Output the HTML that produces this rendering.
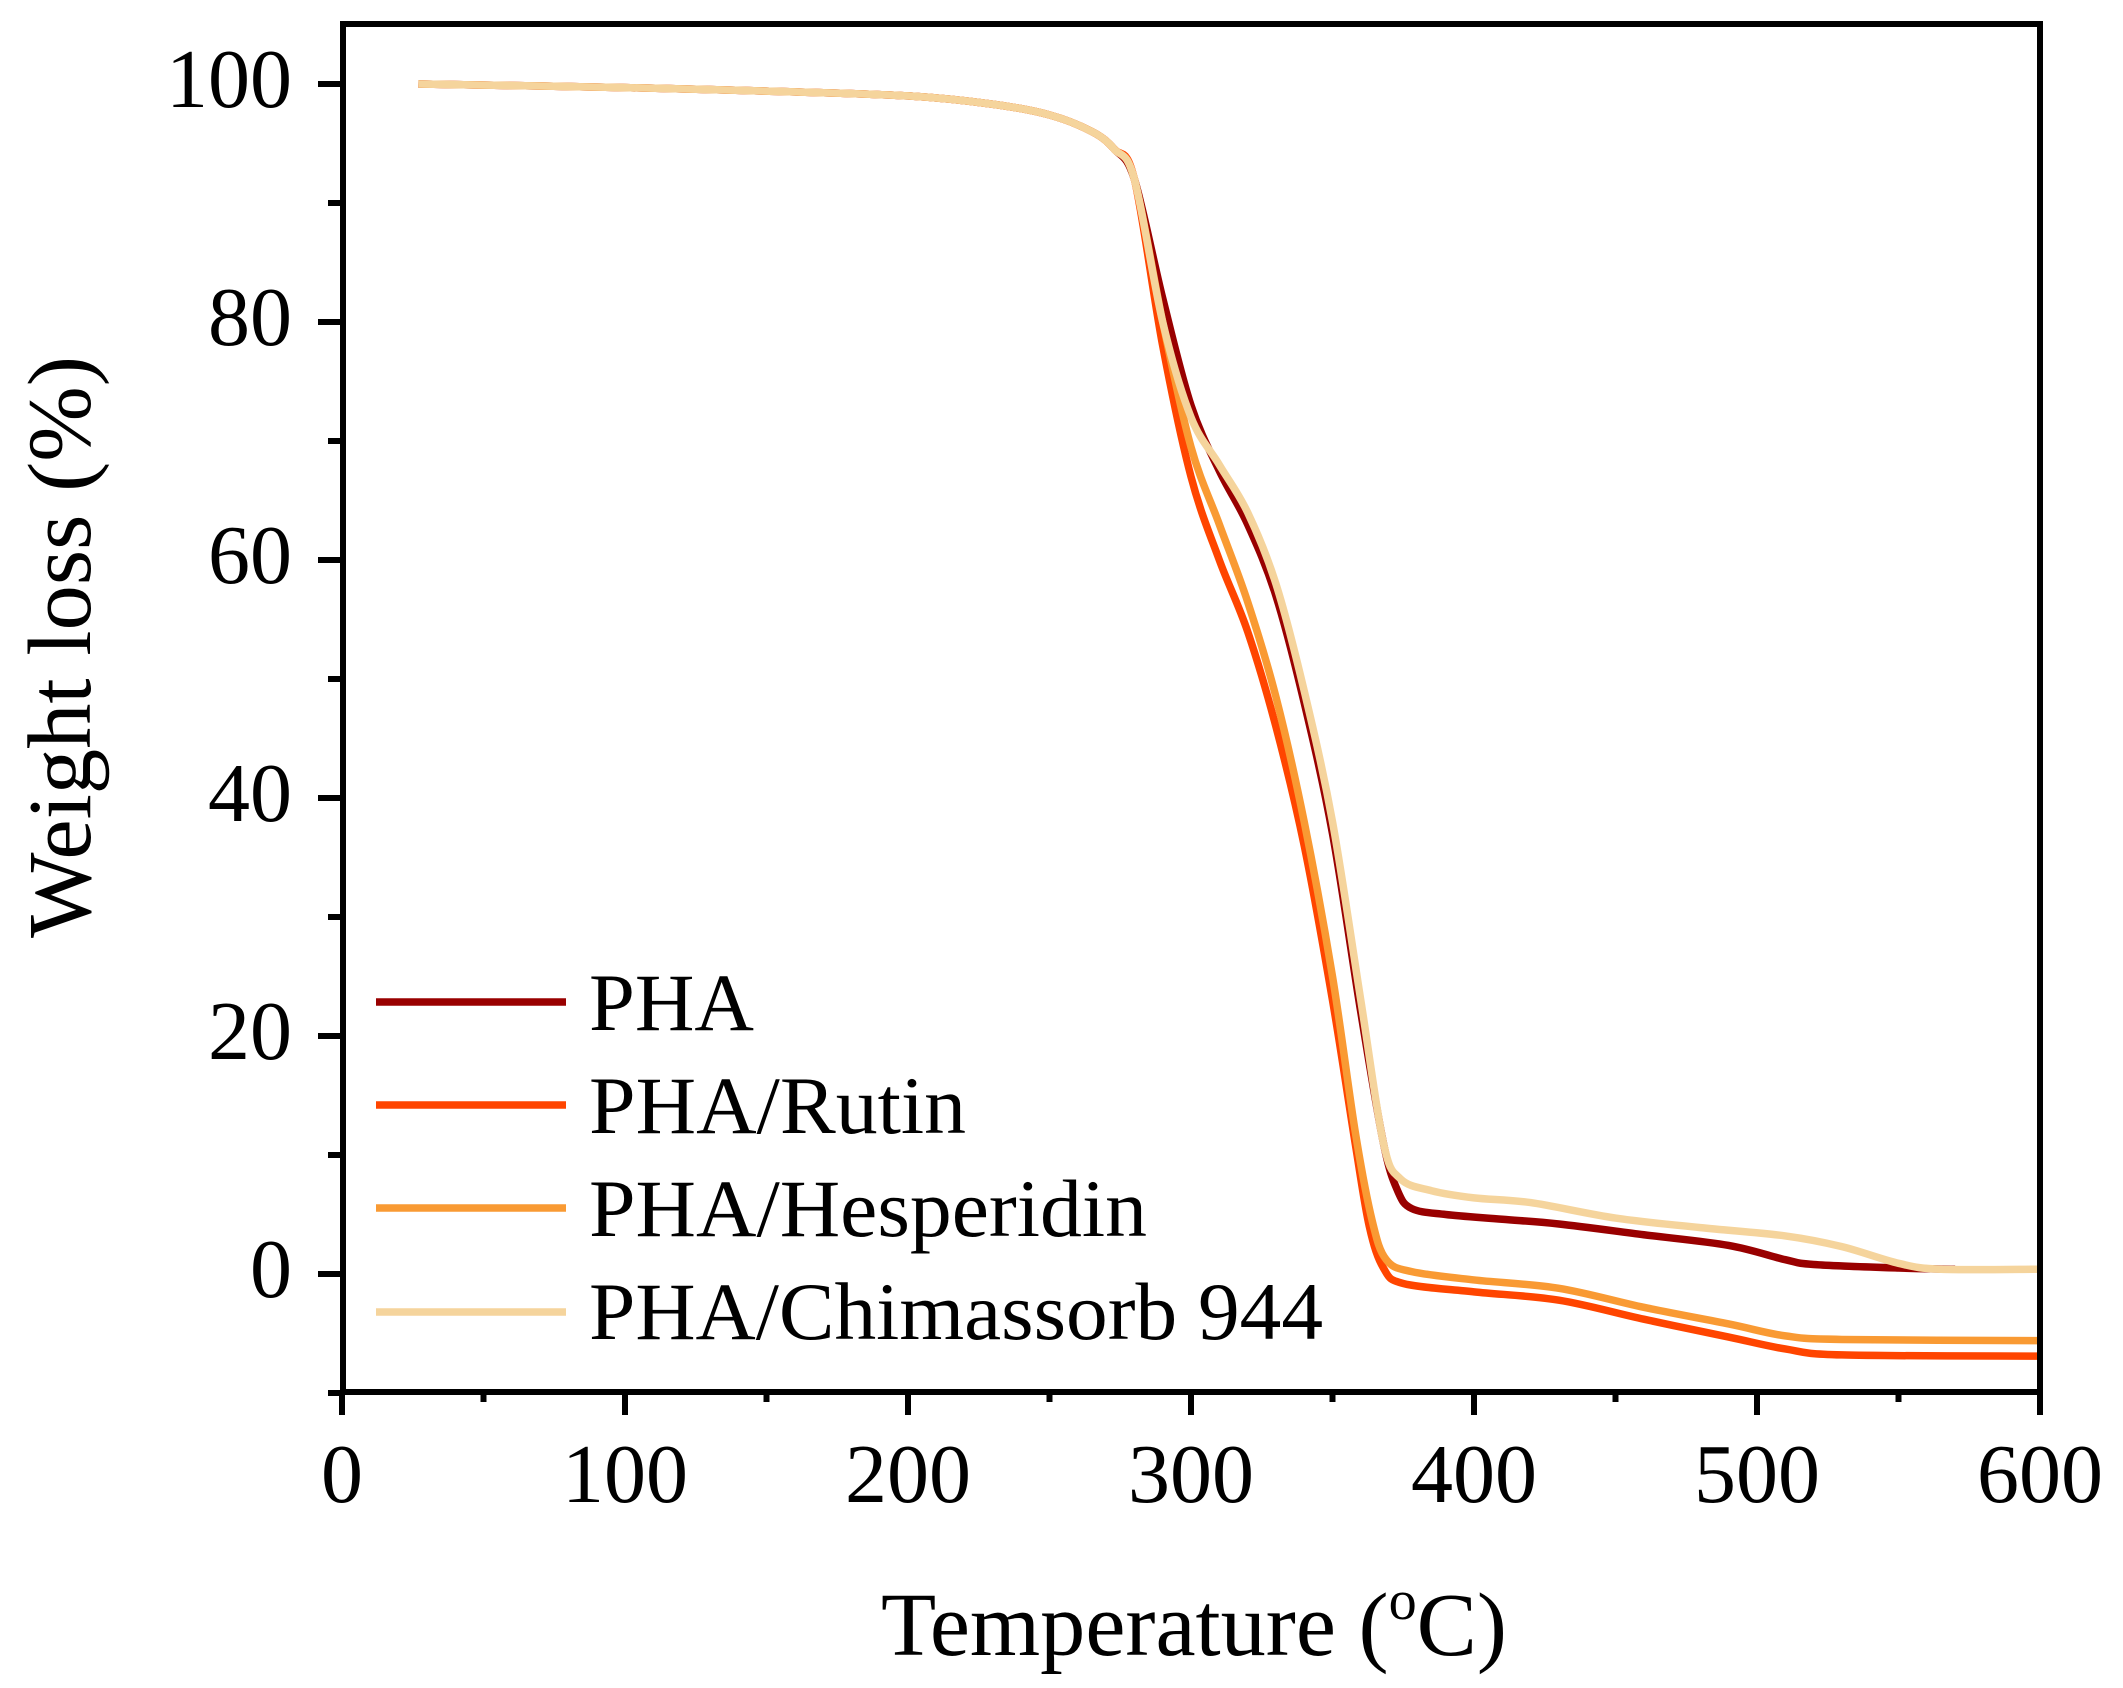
<!DOCTYPE html>
<html><head><meta charset="utf-8"><style>
html,body{margin:0;padding:0;background:#fff;}
svg{display:block;}
text{font-family:"Liberation Serif",serif;fill:#000;}
</style></head><body>
<svg id="s" width="2123" height="1688" viewBox="0 0 2123 1688" xmlns="http://www.w3.org/2000/svg">
<rect width="2123" height="1688" fill="#fff"/>
<g id="curves" fill="none" stroke-width="7.5" stroke-linejoin="round" stroke-linecap="butt"></g>
<rect x="343" y="24" width="1697" height="1368" fill="none" stroke="#000" stroke-width="6"/>
<g id="ticks" stroke="#000" stroke-width="6"></g>
<g font-size="84" text-anchor="end">
<text x="292" y="107">100</text>
<text x="292" y="345">80</text>
<text x="292" y="583">60</text>
<text x="292" y="821">40</text>
<text x="292" y="1059">20</text>
<text x="292" y="1297">0</text>
</g>
<g font-size="84" text-anchor="middle">
<text x="342" y="1502">0</text>
<text x="625" y="1502">100</text>
<text x="908" y="1502">200</text>
<text x="1191" y="1502">300</text>
<text x="1474" y="1502">400</text>
<text x="1757" y="1502">500</text>
<text x="2040" y="1502">600</text>
</g>
<text x="881" y="1655" font-size="90" textLength="626" lengthAdjust="spacingAndGlyphs">Temperature (<tspan font-size="56" dy="-36">o</tspan><tspan dy="36">C)</tspan></text>
<text transform="translate(90,938) rotate(-90)" font-size="90" textLength="582" lengthAdjust="spacingAndGlyphs">Weight loss (%)</text>
<g stroke-width="7.5">
<line x1="376" y1="1002" x2="566" y2="1002" stroke="#990000"/>
<line x1="376" y1="1105" x2="566" y2="1105" stroke="#ff4500"/>
<line x1="376" y1="1208" x2="566" y2="1208" stroke="#f99a33"/>
<line x1="376" y1="1312" x2="566" y2="1312" stroke="#f5d49c"/>
</g>
<g font-size="82">
<text x="589" y="1030" textLength="165" lengthAdjust="spacingAndGlyphs">PHA</text>
<text x="589" y="1133" textLength="377" lengthAdjust="spacingAndGlyphs">PHA/Rutin</text>
<text x="589" y="1236" textLength="558" lengthAdjust="spacingAndGlyphs">PHA/Hesperidin</text>
<text x="589" y="1339" textLength="734" lengthAdjust="spacingAndGlyphs">PHA/Chimassorb 944</text>
</g>
</svg>
<script>
var X=function(t){return 342+t*2.83;},Y=function(w){return 1274-w*11.9;};
var base=[[27,100],[100,99.7],[150,99.4],[200,99],[230,98.3],[250,97.4],[265,96],[273,94.5]];
var data=[
["#990000",base.concat([[280,92],[290,82],[300,73],[310,67.5],[320,63],[330,57],[340,48],[350,37],[360,22],[368,11],[373,7],[378,5.5],[390,5],[410,4.6],[430,4.2],[460,3.3],[490,2.4],[510,1.2],[520,0.8],[550,0.5],[570,0.4]])],
["#ff4500",base.concat([[280,92],[290,78],[300,67],[310,60],[320,54],[330,46],[340,36],[350,23],[358,11],[363,4],[368,0.5],[375,-0.8],[400,-1.5],[430,-2.2],[460,-3.8],[490,-5.3],[510,-6.3],[530,-6.8],[600,-6.9]])],
["#f99a33",base.concat([[280,92],[290,80],[300,69.5],[310,63],[320,56.5],[330,48.5],[340,38],[350,25],[358,12],[364,4.5],[369,1.2],[378,0.2],[400,-0.5],[430,-1.2],[460,-2.8],[490,-4.2],[510,-5.2],[530,-5.5],[600,-5.6]])],
["#f5d49c",base.concat([[280,92],[290,80],[300,72],[310,68],[320,64],[330,58],[340,49],[350,38],[360,23],[368,11],[374,8],[385,7],[400,6.4],[420,6],[450,4.7],[480,3.9],[510,3.2],[530,2.3],[550,0.9],[565,0.4],[600,0.4]])]
];
var g=document.getElementById('curves'),ns="http://www.w3.org/2000/svg";
data.forEach(function(d){
 var p=d[1].map(function(a){return [X(a[0]),Y(a[1])];});
 var s="M"+p[0][0]+","+p[0][1];
 for(var i=0;i<p.length-1;i++){
  var p0=p[i-1]||p[i],p1=p[i],p2=p[i+1],p3=p[i+2]||p2;
  var c1=[p1[0]+(p2[0]-p0[0])/6,p1[1]+(p2[1]-p0[1])/6],c2=[p2[0]-(p3[0]-p1[0])/6,p2[1]-(p3[1]-p1[1])/6];
  s+=" C"+c1+" "+c2+" "+p2;
 }
 var e=document.createElementNS(ns,"path");e.setAttribute("d",s);e.setAttribute("stroke",d[0]);g.appendChild(e);
});
var t=document.getElementById('ticks');
function ln(a,b,c,d){var e=document.createElementNS(ns,"line");e.setAttribute("x1",a);e.setAttribute("y1",b);e.setAttribute("x2",c);e.setAttribute("y2",d);t.appendChild(e);}
for(var v=0;v<=600;v+=50){var x=X(v);ln(x,1392,x,v%100==0?1415:1402);}
for(var w=-10;w<=100;w+=10){var y=Y(w);ln(343,y,w%20==0?318:328,y);}
</script>
</body></html>
